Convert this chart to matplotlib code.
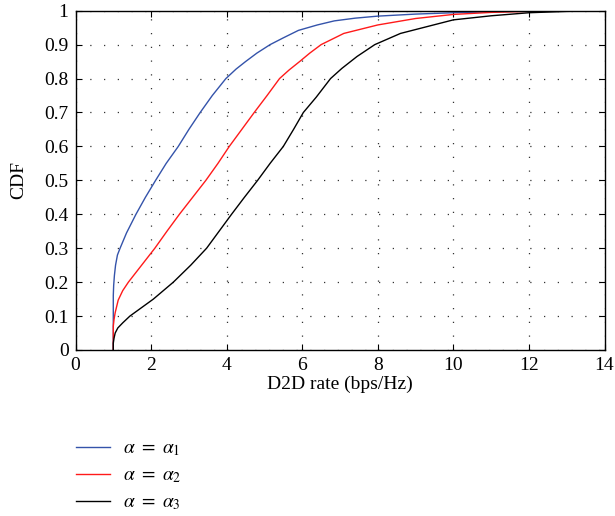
import matplotlib
matplotlib.use("Agg")
import matplotlib.pyplot as plt
from matplotlib.ticker import MultipleLocator

plt.rcParams['font.family'] = ['Liberation Serif', 'DejaVu Serif']
plt.rcParams['mathtext.fontset'] = 'stix'

# CDF curves: rate (bps/Hz) and CDF value
rate1 = [1.0, 1.0, 1.01, 1.03, 1.06, 1.11, 1.18, 1.35, 1.6, 1.85, 2.12, 2.4, 2.72, 3.0, 3.3,
         3.62, 3.98, 4.25, 4.5, 4.8, 5.15, 5.5, 5.9, 6.4, 6.85, 7.4, 8.0, 9.0, 10.0, 11.0, 12.0, 14.0]
cdf1  = [0.0, 0.16, 0.19, 0.22, 0.25, 0.28, 0.30, 0.345, 0.40, 0.45, 0.50, 0.55, 0.60, 0.65, 0.70,
         0.75, 0.80, 0.828, 0.85, 0.875, 0.90, 0.92, 0.942, 0.958, 0.97, 0.978, 0.984, 0.99, 0.994, 0.997, 0.999, 1.0]

rate2 = [1.0, 1.0, 1.02, 1.05, 1.13, 1.25, 1.4, 1.75, 2.1, 2.42, 2.75, 3.1, 3.45, 3.77, 4.07,
         4.4, 4.73, 5.07, 5.4, 5.65, 5.93, 6.2, 6.5, 7.1, 8.0, 9.0, 10.0, 11.0, 12.0, 14.0]
cdf2  = [0.0, 0.07, 0.09, 0.11, 0.147, 0.175, 0.20, 0.25, 0.30, 0.35, 0.40, 0.45, 0.50, 0.55, 0.60,
         0.65, 0.70, 0.75, 0.80, 0.825, 0.85, 0.875, 0.90, 0.933, 0.958, 0.977, 0.989, 0.995, 0.998, 1.0]

rate3 = [1.0, 1.0, 1.02, 1.05, 1.12, 1.25, 1.44, 1.75, 2.06, 2.59, 3.05, 3.47, 3.8, 4.13, 4.47,
         4.82, 5.15, 5.5, 5.77, 6.03, 6.37, 6.75, 7.05, 7.45, 7.92, 8.6, 9.65, 10.0, 11.0, 12.0, 13.0, 14.0]
cdf3  = [0.0, 0.02, 0.035, 0.05, 0.065, 0.08, 0.10, 0.125, 0.15, 0.20, 0.25, 0.30, 0.35, 0.40, 0.45,
         0.50, 0.55, 0.60, 0.65, 0.70, 0.745, 0.80, 0.83, 0.865, 0.90, 0.933, 0.963, 0.973, 0.985, 0.994, 0.998, 1.0]

labels = [r'$\alpha\ =\ \alpha_1$', r'$\alpha\ =\ \alpha_2$', r'$\alpha\ =\ \alpha_3$']
colors = ['#3453aa', '#ff1a1a', '#000000']

FS = 14

fig = plt.figure(figsize=(6.15, 5.16), dpi=100)
ax = fig.add_axes([75.5 / 615, 1 - 350 / 516, 529 / 615, 339.3 / 516])

h1, = ax.plot(rate1, cdf1, color=colors[0], lw=1.0, label=labels[0])
h2, = ax.plot(rate2, cdf2, color=colors[1], lw=1.0, label=labels[1])
h3, = ax.plot(rate3, cdf3, color=colors[2], lw=1.0, label=labels[2])

ax.set_xlim(0, 14)
ax.set_ylim(0, 1)
ax.xaxis.set_major_locator(MultipleLocator(2))
ax.yaxis.set_major_locator(MultipleLocator(0.1))
ax.set_yticks(ax.get_yticks())
ax.set_yticklabels([f'{v:g}' for v in ax.get_yticks()])
ax.set_ylim(0, 1)
ax.grid(True, linestyle=(0, (1, 10)), color='#333333', lw=0.9)
ax.tick_params(direction='in', top=True, right=True, labelsize=FS, length=4, width=0.8, pad=5)
for s in ax.spines.values():
    s.set_linewidth(1.0)
ax.set_xlabel('D2D rate (bps/Hz)', fontsize=FS, labelpad=1)
ax.set_ylabel('CDF', fontsize=FS, labelpad=12)

fig.legend(handles=[h1, h2, h3], loc='upper left', bbox_to_anchor=(76 / 615, 1 - 440 / 516),
           frameon=False, fontsize=FS, handlelength=1.75, labelspacing=0.45,
           handletextpad=0.67, borderaxespad=0, borderpad=0)

fig.savefig('out.png', dpi=100)
